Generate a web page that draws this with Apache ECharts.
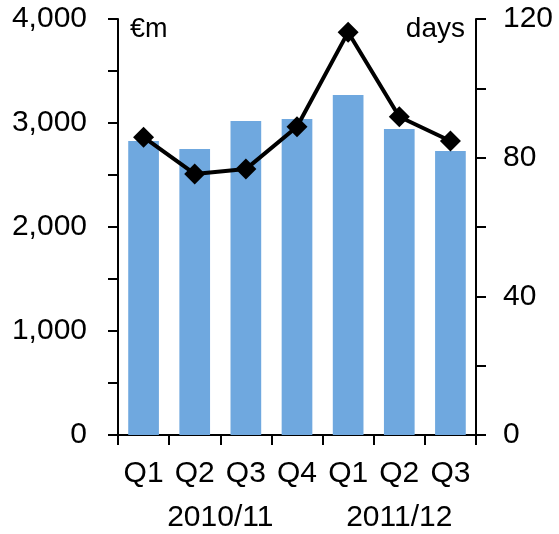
<!DOCTYPE html>
<html>
<head>
<meta charset="utf-8">
<script src="https://cdn.jsdelivr.net/npm/echarts@6/dist/echarts.min.js"></script>
<style>
  html, body { margin: 0; padding: 0; background: #fff; }
  #chart { width: 559px; height: 534px; }
</style>
</head>
<body>
<div id="chart"></div>
<script>
// Quarterly categories and fiscal years
const quarters = ['Q1', 'Q2', 'Q3', 'Q4', 'Q1', 'Q2', 'Q3'];
const yearLabels = ['2010/11', '2011/12'];
// Position of each fiscal-year label on a 0..7 quarter scale (centre of its quarters)
const yearPositions = [2, 5.5];

// Amount in €m (bars, left axis)
const amountEurM = [2827, 2750, 3019, 3038, 3269, 2942, 2731];
// Days (line, right axis)
const days = [85.9, 75.3, 76.7, 88.9, 116.2, 91.8, 84.8];

const FONT = 'Liberation Sans';
const BLACK = '#000';

const chart = echarts.init(document.getElementById('chart'), null, { renderer: 'canvas' });

chart.setOption({
  animation: false,
  grid: { left: 118, right: 83, top: 19, bottom: 99 },
  xAxis: [
    {
      type: 'category',
      data: quarters,
      boundaryGap: true,
      axisLine: { lineStyle: { color: BLACK, width: 2 } },
      axisTick: { show: true, length: 10, interval: 0, lineStyle: { color: BLACK, width: 2 } },
      axisLabel: { color: BLACK, fontFamily: FONT, fontSize: 30, margin: 24, interval: 0, hideOverlap: false }
    },
    {
      type: 'value',
      position: 'bottom',
      min: 0,
      max: 7,
      axisLine: { show: false },
      axisTick: { show: false },
      splitLine: { show: false },
      axisLabel: {
        color: BLACK, fontFamily: FONT, fontSize: 30, margin: 68,
        customValues: yearPositions,
        formatter: function (v) {
          const i = yearPositions.indexOf(v);
          return i >= 0 ? yearLabels[i] : '';
        }
      }
    }
  ],
  yAxis: [
    {
      type: 'value',
      min: 0,
      max: 4000,
      interval: 500,
      name: '€m',
      nameLocation: 'end',
      nameGap: -24,
      nameTextStyle: { color: BLACK, fontFamily: FONT, fontSize: 27, align: 'left', verticalAlign: 'bottom', padding: [0, 0, 0, 12] },
      axisLine: { show: true, lineStyle: { color: BLACK, width: 2 } },
      axisTick: { show: true, length: 10, lineStyle: { color: BLACK, width: 2 } },
      splitLine: { show: false },
      axisLabel: {
        color: BLACK, fontFamily: FONT, fontSize: 30, margin: 31,
        formatter: function (v) { return v % 1000 === 0 ? v.toLocaleString('en-US') : ''; }
      }
    },
    {
      type: 'value',
      min: 0,
      max: 120,
      interval: 20,
      position: 'right',
      name: 'days',
      nameLocation: 'end',
      nameGap: -24,
      nameTextStyle: { color: BLACK, fontFamily: FONT, fontSize: 28, align: 'right', verticalAlign: 'bottom', padding: [0, 11, 0, 0] },
      axisLine: { show: true, lineStyle: { color: BLACK, width: 2 } },
      axisTick: { show: true, length: 10, lineStyle: { color: BLACK, width: 2 } },
      splitLine: { show: false },
      axisLabel: {
        color: BLACK, fontFamily: FONT, fontSize: 30, margin: 27,
        formatter: function (v) { return v % 40 === 0 ? String(v) : ''; }
      }
    }
  ],
  series: [
    {
      type: 'bar',
      xAxisIndex: 0,
      yAxisIndex: 0,
      data: amountEurM,
      barWidth: '60%',
      itemStyle: { color: '#6FA8DF' },
      z: 1
    },
    {
      type: 'line',
      xAxisIndex: 0,
      yAxisIndex: 1,
      data: days,
      symbol: 'diamond',
      symbolSize: [21, 21],
      lineStyle: { color: BLACK, width: 4 },
      itemStyle: { color: BLACK },
      z: 3
    }
  ]
});
</script>
</body>
</html>
